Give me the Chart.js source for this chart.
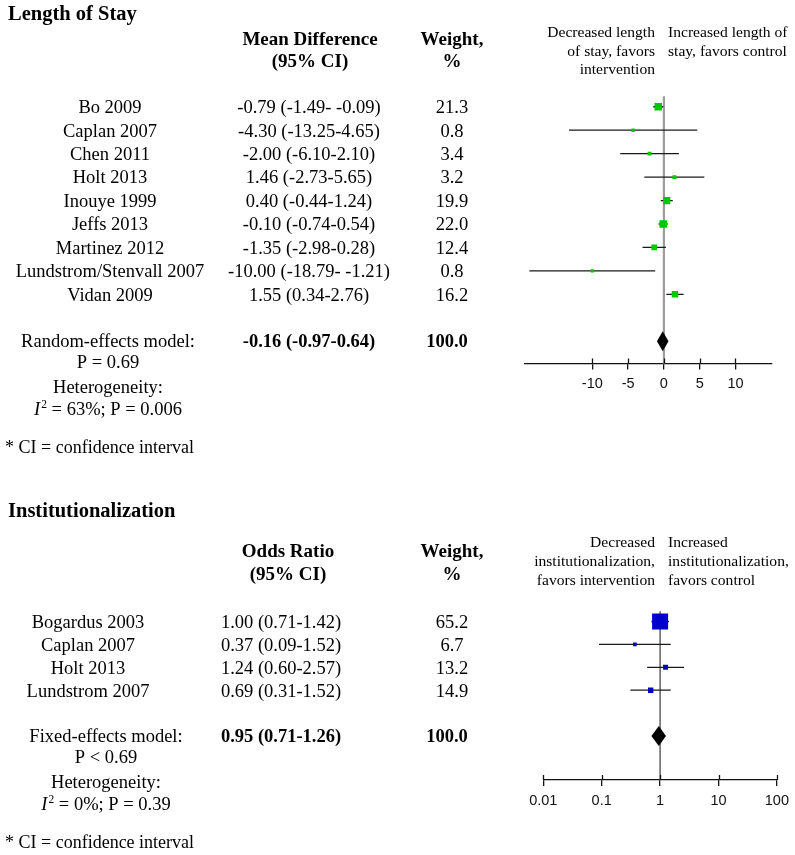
<!DOCTYPE html>
<html><head><meta charset="utf-8">
<script src="https://cdn.jsdelivr.net/npm/chart.js@4"></script>
<style>
html,body{margin:0;padding:0;background:#fff;}
#wrap{position:relative;width:795px;height:855px;overflow:hidden;background:#fff}
canvas{position:absolute;left:0}
</style></head><body>
<div id="wrap">
<canvas id="c1" width="795" height="470" style="top:0px;width:795px;height:470px"></canvas>
<canvas id="c2" width="795" height="385" style="top:470px;width:795px;height:385px"></canvas>
</div>
<script>
// ---------- Data: Length of Stay ----------
const losStudies = ['Bo 2009','Caplan 2007','Chen 2011','Holt 2013','Inouye 1999','Jeffs 2013','Martinez 2012','Lundstrom/Stenvall 2007','Vidan 2009'];
const losMD     = [-0.79, -4.30, -2.00, 1.46, 0.40, -0.10, -1.35, -10.00, 1.55];
const losLower  = [-1.49, -13.25, -6.10, -2.73, -0.44, -0.74, -2.98, -18.79, 0.34];
const losUpper  = [-0.09, 4.65, 2.10, 5.65, 1.24, 0.54, 0.28, -1.21, 2.76];
const losWeight = [21.3, 0.8, 3.4, 3.2, 19.9, 22.0, 12.4, 0.8, 16.2];
const losPooled = [-0.16, -0.97, 0.64];   // estimate, lower, upper
const losPooledWeight = 100.0;
const losTicks  = [-10, -5, 0, 5, 10];

// ---------- Data: Institutionalization ----------
const instStudies = ['Bogardus 2003','Caplan 2007','Holt 2013','Lundstrom 2007'];
const instOR      = [1.00, 0.37, 1.24, 0.69];
const instLower   = [0.71, 0.09, 0.60, 0.31];
const instUpper   = [1.42, 1.52, 2.57, 1.52];
const instWeight  = [65.2, 6.7, 13.2, 14.9];
const instPooled  = [0.95, 0.71, 1.26];
const instPooledWeight = 100.0;
const instTicks   = [0.01, 0.1, 1, 10, 100];

// ---------- helpers ----------
const SERIF = '"Liberation Serif","Times New Roman",Times,serif';
const SANS  = '"Liberation Sans",Arial,Helvetica,sans-serif';
const BODY = 18.5;

function txt(ctx, s, x, y, o = {}) {
  const size = o.size || BODY;
  ctx.font = `${o.italic ? 'italic ' : ''}${o.bold ? 'bold ' : ''}${size}px ${SERIF}`;
  ctx.textAlign = o.align || 'center';
  ctx.textBaseline = 'middle';
  ctx.fillStyle = '#000';
  ctx.fillText(s, x, y);
}
function hetLine(ctx, rest, cx, y) {
  const fI = `italic ${BODY}px ${SERIF}`, fS = `${BODY * 0.62}px ${SERIF}`, fN = `${BODY}px ${SERIF}`;
  ctx.font = fI; const wI = ctx.measureText('I').width + 1;
  ctx.font = fS; const wS = ctx.measureText('2').width;
  ctx.font = fN; const wR = ctx.measureText(rest).width;
  let x = cx - (wI + wS + wR) / 2;
  ctx.textAlign = 'left'; ctx.textBaseline = 'middle'; ctx.fillStyle = '#000';
  ctx.font = fI; ctx.fillText('I', x, y); x += wI;
  ctx.font = fS; ctx.fillText('2', x, y - 5); x += wS;
  ctx.font = fN; ctx.fillText(rest, x, y);
}
const f2 = v => v.toFixed(2);
function ciText(est, lo, hi) {
  return `${f2(est)} (${f2(lo)}-${hi < 0 ? ' ' : ''}${f2(hi)})`;
}

function makeForestPlugin(cfg) {
  return {
    id: 'forest_' + cfg.id,
    beforeDatasetsDraw(chart) {
      const { ctx, chartArea, scales } = chart;
      const px = scales.x.getPixelForValue(cfg.refValue);
      ctx.save();
      ctx.strokeStyle = cfg.refColor; ctx.lineWidth = cfg.refWidth;
      ctx.beginPath(); ctx.moveTo(px, chartArea.top); ctx.lineTo(px, chartArea.bottom); ctx.stroke();
      ctx.restore();
    },
    afterDatasetsDraw(chart) {
      const { ctx, scales } = chart;
      const [est, lo, hi] = cfg.pooled;
      const cy = scales.y.getPixelForValue(cfg.summaryRow);
      ctx.save();
      ctx.fillStyle = '#000';
      ctx.beginPath();
      ctx.moveTo(scales.x.getPixelForValue(lo), cy);
      ctx.lineTo(scales.x.getPixelForValue(est), cy - 10);
      ctx.lineTo(scales.x.getPixelForValue(hi), cy);
      ctx.lineTo(scales.x.getPixelForValue(est), cy + 10);
      ctx.closePath(); ctx.fill();
      ctx.restore();
    },
    afterDraw(chart) {
      const { ctx, chartArea, scales } = chart;
      ctx.save();
      // upper halves of axis tick marks
      ctx.strokeStyle = '#111'; ctx.lineWidth = 1.3;
      cfg.ticks.forEach(v => {
        const px = Math.round(scales.x.getPixelForValue(v)) + 0.5;
        ctx.beginPath(); ctx.moveTo(px, chartArea.bottom - 5); ctx.lineTo(px, chartArea.bottom); ctx.stroke();
      });
      const T = cfg.text;
      // title
      txt(ctx, T.title, 8, T.titleY, { bold: true, size: 20.5, align: 'left' });
      // column headers
      txt(ctx, T.effHead[0], T.effX, T.headY[0], { bold: true, size: 19 });
      txt(ctx, T.effHead[1], T.effX, T.headY[1], { bold: true, size: 19 });
      txt(ctx, 'Weight,', T.wX, T.headY[0], { bold: true, size: 19 });
      txt(ctx, '%', T.wX, T.headY[1], { bold: true, size: 19 });
      // direction headers
      T.leftHead.forEach((s, i) => txt(ctx, s, 655, T.dirY[i], { size: 15.6, align: 'right' }));
      T.rightHead.forEach((s, i) => txt(ctx, s, 668, T.dirY[i], { size: 15.6, align: 'left' }));
      // rows
      cfg.studies.forEach((name, i) => {
        const y = scales.y.getPixelForValue(i) + 1.5;
        txt(ctx, name, T.nameX, y);
        txt(ctx, ciText(cfg.est[i], cfg.lower[i], cfg.upper[i]), T.valX, y);
        txt(ctx, cfg.weight[i].toFixed(1), T.wX, y);
      });
      // summary
      const sy = scales.y.getPixelForValue(cfg.summaryRow) + 1;
      txt(ctx, T.model, T.sumX, sy);
      txt(ctx, ciText(cfg.pooled[0], cfg.pooled[1], cfg.pooled[2]), T.valX, sy, { bold: true });
      txt(ctx, cfg.pooledWeight.toFixed(1), T.sumWX, sy, { bold: true });
      txt(ctx, T.pLine, T.sumX, sy + 21);
      txt(ctx, 'Heterogeneity:', T.sumX, sy + 46);
      hetLine(ctx, T.het, T.sumX, sy + 68);
      txt(ctx, '* CI = confidence interval', 5, sy + 106, { align: 'left', size: 18 });
      ctx.restore();
    }
  };
}

function xAxis(type, min, max, ticks) {
  return {
    type, min, max, position: 'bottom',
    afterBuildTicks: s => { s.ticks = ticks.map(v => ({ value: v })); },
    afterFit: s => { s.height = 40; },
    grid: { display: true, drawOnChartArea: false, drawTicks: true, tickLength: 6, color: '#111', lineWidth: 1.3 },
    border: { display: true, color: '#111', width: 1.3 },
    ticks: { font: { family: SANS, size: 14.5 }, color: '#111', padding: 6, maxRotation: 0, autoSkip: false,
             callback: v => String(v) }
  };
}

function buildChart(canvasId, opt) {
  const sq = opt.weight.map(w => (opt.sizeA + opt.sizeB * w) / Math.SQRT2);
  const datasets = [
    { type: 'scatter', data: opt.est.map((v, i) => ({ x: v, y: i })), pointStyle: 'rect',
      pointRadius: sq, pointHoverRadius: sq, backgroundColor: opt.color, borderWidth: 0, order: 0 }
  ].concat(opt.est.map((_, i) => ({
      type: 'line', data: [{ x: opt.lower[i], y: i }, { x: opt.upper[i], y: i }],
      borderColor: '#1a1a1a', borderWidth: 1.3, pointRadius: 0, fill: false, order: 1 })));
  return new Chart(document.getElementById(canvasId), {
    type: 'scatter',
    data: { datasets },
    options: {
      responsive: false, animation: false, devicePixelRatio: 1, events: [],
      layout: { padding: opt.padding },
      plugins: { legend: { display: false }, tooltip: { enabled: false }, title: { display: false } },
      scales: {
        x: xAxis(opt.xType, opt.xMin, opt.xMax, opt.ticks),
        y: { type: 'linear', display: false, reverse: true, min: opt.yMin, max: opt.yMax }
      }
    },
    plugins: [makeForestPlugin(opt)]
  });
}

buildChart('c1', {
  id: 'los', studies: losStudies, est: losMD, lower: losLower, upper: losUpper, weight: losWeight,
  pooled: losPooled, pooledWeight: losPooledWeight, ticks: losTicks, summaryRow: 10,
  xType: 'linear', xMin: -19.4, xMax: 15.1, yMin: -0.45, yMax: 10.95,
  padding: { left: 525, right: 23, top: 96.2, bottom: 66.5 },
  color: '#00c800', sizeA: 3.2, sizeB: 0.2,
  refValue: 0, refColor: '#9c9c9c', refWidth: 2.2,
  text: {
    title: 'Length of Stay', titleY: 15,
    effHead: ['Mean Difference', '(95% CI)'], effX: 310, wX: 452, headY: [40, 62],
    leftHead: ['Decreased length', 'of stay, favors', 'intervention'],
    rightHead: ['Increased length of', 'stay, favors control'], dirY: [33, 51.5, 70],
    nameX: 110, valX: 309, sumX: 108, sumWX: 447,
    model: 'Random-effects model:', pLine: 'P = 0.69', het: ' = 63%; P = 0.006'
  }
});

buildChart('c2', {
  id: 'inst', studies: instStudies, est: instOR, lower: instLower, upper: instUpper, weight: instWeight,
  pooled: instPooled, pooledWeight: instPooledWeight, ticks: instTicks, summaryRow: 5,
  xType: 'logarithmic', xMin: 0.01, xMax: 100, yMin: -0.45, yMax: 6.92,
  padding: { left: 543.3, right: 18, top: 141.2, bottom: 35 },
  color: '#0000cc', sizeA: 2.2, sizeB: 0.212,
  refValue: 1, refColor: '#555555', refWidth: 1.4,
  text: {
    title: 'Institutionalization', titleY: 42,
    effHead: ['Odds Ratio', '(95% CI)'], effX: 288, wX: 452, headY: [82, 105],
    leftHead: ['Decreased', 'institutionalization,', 'favors intervention'],
    rightHead: ['Increased', 'institutionalization,', 'favors control'], dirY: [73.3, 92.3, 110.7],
    nameX: 88, valX: 281, sumX: 106, sumWX: 447,
    model: 'Fixed-effects model:', pLine: 'P < 0.69', het: ' = 0%; P = 0.39'
  }
});
</script>
</body></html>
